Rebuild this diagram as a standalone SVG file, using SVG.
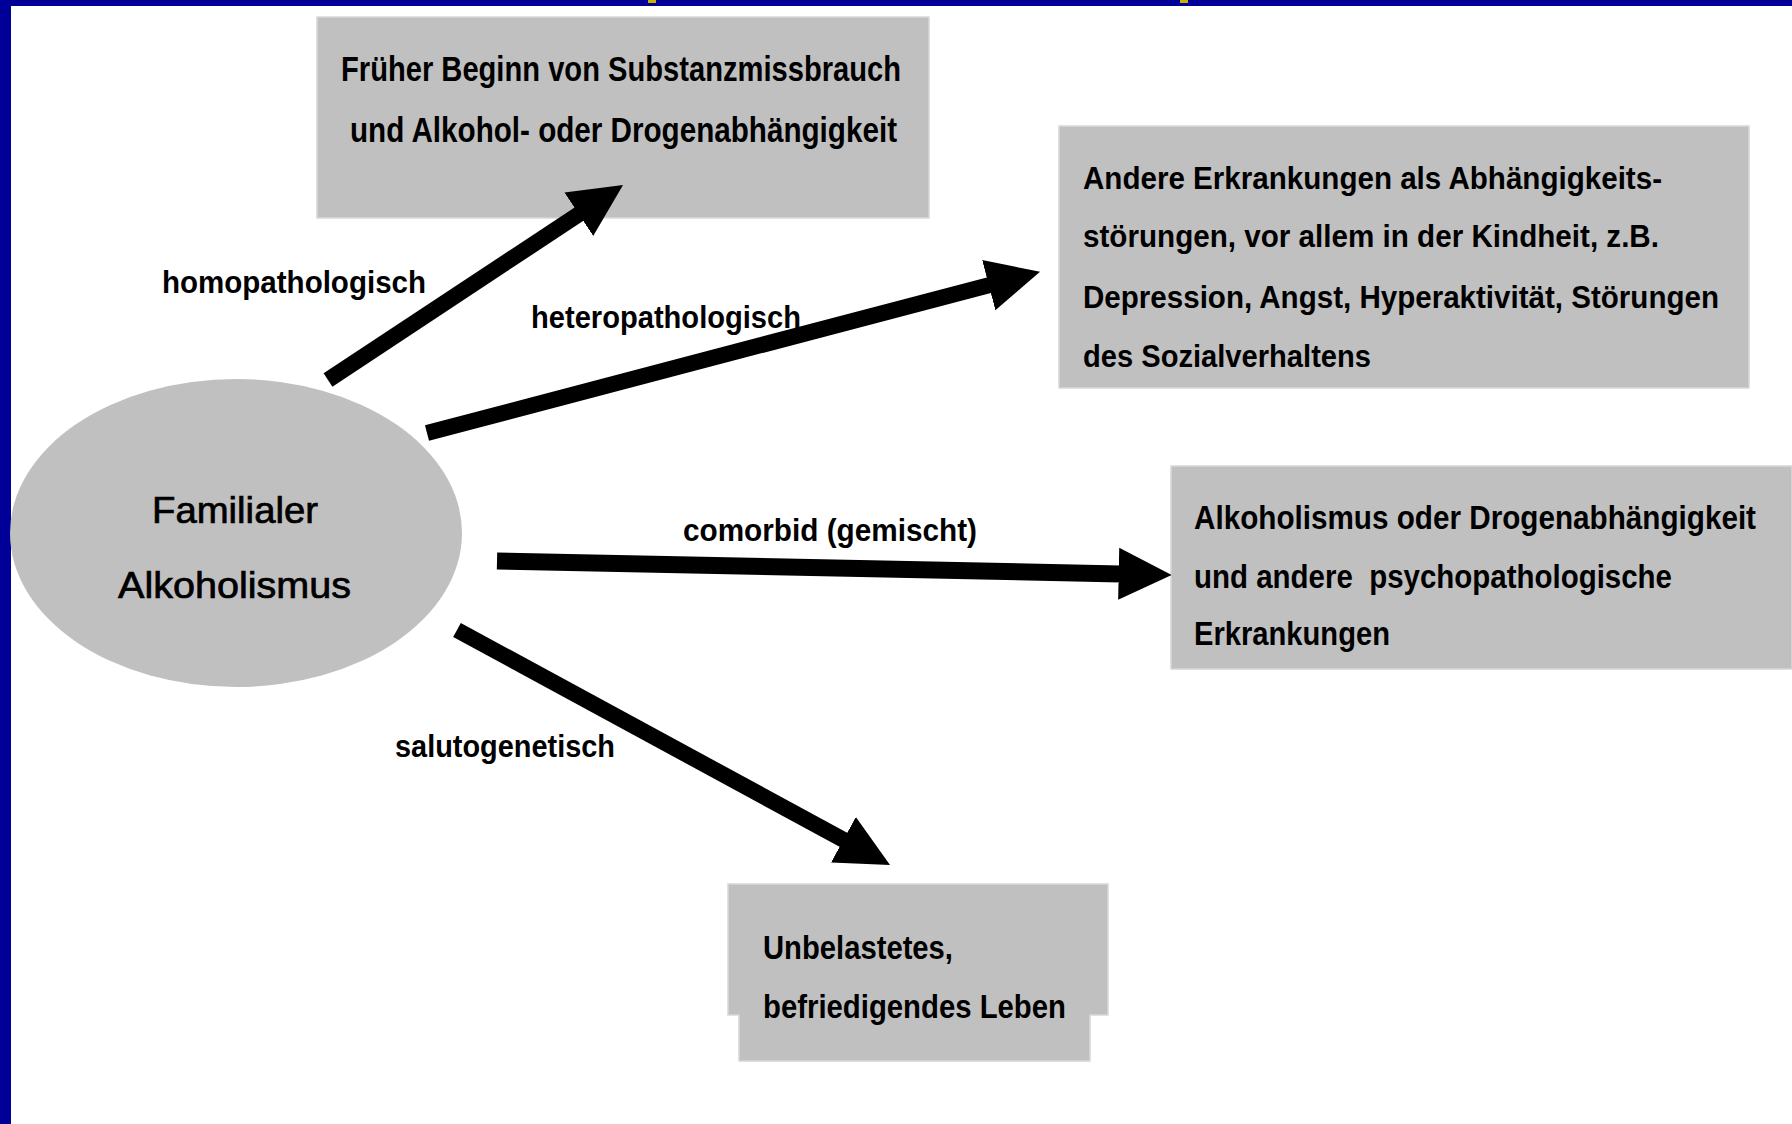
<svg xmlns="http://www.w3.org/2000/svg" width="1792" height="1124" viewBox="0 0 1792 1124">
<defs>
<style>
.box{fill:#c0c0c0;stroke:#d8d8d8;stroke-width:1.5}
.bt{font-family:"Liberation Sans",Arial,sans-serif;font-weight:bold;fill:#000;white-space:pre}
.lbl{font-family:"Liberation Sans",Arial,sans-serif;font-weight:bold;font-size:31px;fill:#000}
.et{font-family:"Liberation Sans",Arial,sans-serif;font-weight:normal;font-size:36px;fill:#000;stroke:#000;stroke-width:0.7}
.shaft{stroke:#000;stroke-width:16;fill:none;stroke-linecap:butt}
</style>
<marker id="head" markerUnits="userSpaceOnUse" markerWidth="56" markerHeight="56" refX="2" refY="27" orient="auto">
<path d="M0,1 L53,27 L0,53 Z" fill="#000"/>
</marker>
</defs>
<rect x="0" y="0" width="1792" height="1124" fill="#fff"/>
<rect x="0" y="0" width="1792" height="6" fill="#000099"/>
<rect x="0" y="0" width="11" height="1124" fill="#000099"/>
<rect x="648" y="0" width="8" height="3" fill="#c8b000"/>
<rect x="1180" y="0" width="8" height="3" fill="#c8b000"/>

<g id="node-familialer">
<ellipse cx="236" cy="533" rx="226" ry="154" fill="#c0c0c0"/>
<text class="et" x="152" y="523" textLength="166" lengthAdjust="spacingAndGlyphs">Familialer</text>
<text class="et" x="118" y="598" textLength="233" lengthAdjust="spacingAndGlyphs">Alkoholismus</text>
</g>

<g id="node-frueher">
<rect class="box" x="317" y="17" width="612" height="201"/>
<text class="bt" font-size="35" x="341" y="81" textLength="560" lengthAdjust="spacingAndGlyphs">Früher Beginn von Substanzmissbrauch</text>
<text class="bt" font-size="35" x="350" y="142" textLength="547" lengthAdjust="spacingAndGlyphs">und Alkohol- oder Drogenabhängigkeit</text>
</g>

<g id="node-andere">
<rect class="box" x="1059" y="126" width="690" height="262"/>
<text class="bt" font-size="31" x="1083" y="189" textLength="579" lengthAdjust="spacingAndGlyphs">Andere Erkrankungen als Abhängigkeits-</text>
<text class="bt" font-size="31" x="1083" y="247" textLength="576" lengthAdjust="spacingAndGlyphs">störungen, vor allem in der Kindheit, z.B.</text>
<text class="bt" font-size="31" x="1083" y="308" textLength="636" lengthAdjust="spacingAndGlyphs">Depression, Angst, Hyperaktivität, Störungen</text>
<text class="bt" font-size="31" x="1083" y="367" textLength="288" lengthAdjust="spacingAndGlyphs">des Sozialverhaltens</text>
</g>

<g id="node-comorbid">
<rect class="box" x="1171" y="466" width="621" height="203"/>
<text class="bt" font-size="33" x="1194" y="529" textLength="562" lengthAdjust="spacingAndGlyphs">Alkoholismus oder Drogenabhängigkeit</text>
<text class="bt" font-size="33" x="1194" y="588" textLength="478" lengthAdjust="spacingAndGlyphs">und andere  psychopathologische</text>
<text class="bt" font-size="33" x="1194" y="645" textLength="196" lengthAdjust="spacingAndGlyphs">Erkrankungen</text>
</g>

<g id="node-unbelastet">
<path class="box" d="M728,884 H1108 V1015 H1090 V1061 H739 V1015 H728 Z"/>
<text class="bt" font-size="33" x="763" y="959" textLength="190" lengthAdjust="spacingAndGlyphs">Unbelastetes,</text>
<text class="bt" font-size="33" x="763" y="1018" textLength="303" lengthAdjust="spacingAndGlyphs">befriedigendes Leben</text>
</g>

<g id="connectors">
<line class="shaft" x1="328" y1="380" x2="580.5" y2="213.1" marker-end="url(#head)"/>
<line class="shaft" x1="427" y1="433" x2="990.7" y2="284.7" marker-end="url(#head)"/>
<line class="shaft" x1="497" y1="561" x2="1120.7" y2="573.9" marker-end="url(#head)" style="stroke-width:17"/>
<line class="shaft" x1="457" y1="630" x2="845.2" y2="840.7" marker-end="url(#head)"/>
<text class="lbl" x="162" y="293" textLength="264" lengthAdjust="spacingAndGlyphs">homopathologisch</text>
<text class="lbl" x="531" y="328" textLength="270" lengthAdjust="spacingAndGlyphs">heteropathologisch</text>
<text class="lbl" x="683" y="541" textLength="294" lengthAdjust="spacingAndGlyphs">comorbid (gemischt)</text>
<text class="lbl" x="395" y="757" textLength="220" lengthAdjust="spacingAndGlyphs">salutogenetisch</text>
</g>
</svg>
